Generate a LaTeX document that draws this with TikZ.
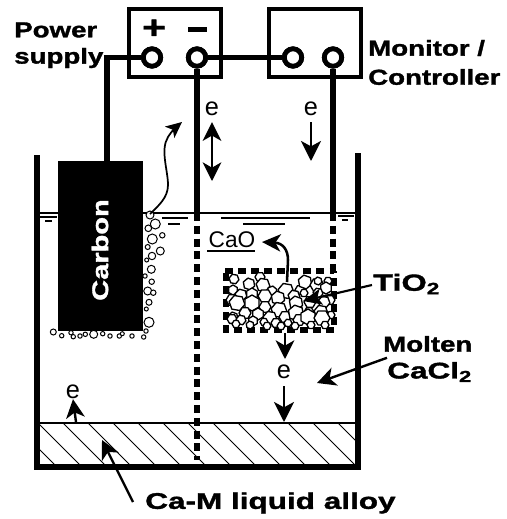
\documentclass[tikz,border=0pt]{standalone}
\usepackage{fontspec}
\usetikzlibrary{arrows.meta,calc}
\newfontfamily\labfont[FakeStretch=1.28,FakeBold=1.5]{Liberation Sans Bold}
\newfontfamily\labwide[FakeStretch=1.39,FakeBold=1.5]{Liberation Sans Bold}
\newfontfamily\thinfont{Liberation Sans}
\begin{document}
\begin{tikzpicture}[x=0.75pt,y=-0.75pt,
  devicebox/.style={draw,line width=3.2pt,fill=white,minimum width=69pt,minimum height=51pt,inner sep=0pt},
  terminal/.style={circle,draw,fill=white,line width=3.6pt,minimum size=13pt,inner sep=0pt},
  wire/.style={line width=4pt},
  wall/.style={line width=4pt},
  dashwire/.style={line width=4pt,dash pattern=on 6pt off 3.6pt},
  thinline/.style={line width=1.8pt},
  hatchline/.style={line width=0.7pt},
  bubble/.style={line width=0.75pt,fill=white},
  particle/.style={line width=1pt,fill=white,line join=round},
  blab/.style={font=\labfont\fontsize{16.2}{18}\selectfont,inner sep=0pt,align=left},
  elab/.style={font=\thinfont\fontsize{19}{20}\selectfont,inner sep=0pt},
  arrowA/.style={line width=1.8pt,-{Stealth[length=15pt,width=15pt,inset=4pt]}},
  arrowB/.style={line width=1.8pt,-{Stealth[length=14pt,width=14pt,inset=4pt]}}]
\useasboundingbox (0,0) rectangle (507,519);
% alloy hatch
\begin{scope}
\clip (37,423) rectangle (358,467);
\foreach \x in {13,38,63,...,338}{\draw[hatchline] (\x,423) -- ++(46,46);}
\end{scope}
% crucible
\coordinate (wallTL) at (37,155);
\coordinate (wallBL) at (37,467);
\coordinate (wallBR) at (358,467);
\coordinate (wallTR) at (358,153);
\draw[wall] (wallTL) -- (wallBL) -- (wallBR) -- (wallTR);
\coordinate (levelL) at (37,213);
\coordinate (levelR) at (358,213);
\draw[line width=1.8pt] (levelL) -- (levelR);
\coordinate (alloyL) at (37,423);
\coordinate (alloyR) at (358,423);
\draw[thinline] (alloyL) -- (alloyR);
% surface ticks
\foreach \a/\b/\y in {40/57/217,45/52/221,162/188/218,168/180/224,221/310/218,243/285/224,338/354/216,342/348/220}
  {\draw[line width=1pt] (\a,\y) -- (\b,\y);}
% boxes and terminals
\node[devicebox] (psu) at (175,43) {};
\node[devicebox] (mon) at (315,43) {};
\coordinate (carbontop) at (107,162);
\coordinate (wireA) at (197,213);
\coordinate (wireB) at (333,213);
\coordinate (dashA) at (197,460);
\coordinate (dashB) at (333,271);
\node[terminal] (tplus) at (152,57.5) {};
\node[terminal] (tminus) at (197,57.5) {};
\node[terminal] (tmonA) at (293,57.5) {};
\node[terminal] (tmonB) at (333,57.5) {};
\draw[wire] (tplus) -| (carbontop);
\draw[wire] (tminus) -- (tmonA);
\draw[wire] (tminus) -- (wireA);
\draw[wire] (tmonB) -- (wireB);
\draw[dashwire] (wireA) -- (dashA);
\draw[dashwire] (wireB) -- (dashB);
\node[terminal] at (tplus) {};
\node[terminal] at (tminus) {};
\node[terminal] at (tmonA) {};
\node[terminal] at (tmonB) {};
\node[font=\labfont\fontsize{24}{24}\selectfont,inner sep=0pt] (plus) at (154,29) {+};
\fill (188,27) rectangle (207,32);
% carbon
\node[fill=black,minimum width=63.75pt,minimum height=127pt,inner sep=0pt] (carbon) at (100.5,246) {};
\node[rotate=90,white,blab,font=\labfont\fontsize{17}{18}\selectfont] (carbontext) at (100,250) {Carbon};
% bubbles
\foreach \x/\y/\r in {150/215/4,155.3/224/5,148.3/228.3/3.3,162.3/235.3/2.7,152.3/239/5,147.7/247/2.5,160.3/251/4,152/256/3.7,146.7/260/2,151.3/269.3/4,145/276/2.2,151.7/281.7/2.7,147.7/291/4,153.3/292.7/2.7,149/302.3/3,146.3/309/2,149/322.3/5,146/331/2.2,143.7/337/2.2,53.3/332/3,61.7/335.7/2.2,71/332.7/2.2,73.3/336.7/2.2,80/336/2.2,85.3/334.3/2.2,93.7/334.3/4,102.7/333.7/2.2,110/336/2.2,119.3/336/2.2,122.3/333.7/2,132/336/2.2}
  {\draw[bubble] (\x,\y) circle[radius=\r];}
% wavy gas arrow
\coordinate (gasA) at (150,214);
\coordinate (gasB) at (182,122);
\draw[line width=1.3pt,-{Stealth[length=12pt,width=11pt,inset=3pt]}] (gasA) .. controls (158,206) and (168,198) .. (168,185) .. controls (168,170) and (160,150) .. (168,137) .. controls (171,132) and (176,127) .. (gasB);
% basket
\draw[line width=3.8pt,dash pattern=on 6pt off 3.8pt] (225,271) -- (334,271);
\draw[line width=3.8pt,dash pattern=on 6pt off 3.8pt] (226,273) -- (226,330) -- (334,330) -- (334,271);
% particles
\foreach \x/\y/\r/\t in {234/279/5/10,233/290/5/30,260/277/5/0,249/284/6/20,263/285/7/10,272/291/5/40,286/291/8/10,300/290/5/0,305/282/7/20,317/285/7/0,318/281/4/20,328/281/4/0,326/288/6/30,
 232/300/6/0,241/295/6/15,252/294/6/30,265/296/7/0,278/298/7/20,294/296/6/10,304/293/4/0,318/293/5/10,330/300/5/0,
 237/303/8/10,252/303/8/30,265/307/6/0,279/310/8/10,296/303/7/20,310/302/6/0,324/302/6/10,
 233/317/5/20,245/313/6/0,258/314/6/30,270/318/7/10,285/317/6/0,296/313/8/20,309/312/5/0,321/312/7/10,331/315/4/0,
 232/319/5/0,241/320/5/10,253/321/5/30,264/322/4/0,276/323/5/0,288/323/4/10,299/320/6/0,308/317/8/30,322/318/8/0,
 236/324/4/0,250/325/4/20,267/326/4/0,281/326/4/0,295/326/4/0,311/325/4/0,325/325/4/0}
 {\draw[particle] (\x,\y) ++(\t:\r) -- ++(\t+120:\r) -- ++(\t+180:\r) -- ++(\t+240:\r) -- ++(\t+300:\r) -- ++(\t:\r) -- cycle;}
% electron labels and arrows
\node[elab] (eA) at (212,109) {e};
\node[elab] (eB) at (311,109) {e};
\node[elab] (eC) at (284,372) {e};
\node[elab] (eD) at (73,392) {e};
\draw[line width=1.5pt,{Stealth[length=14pt,width=14pt,inset=4pt]}-{Stealth[length=14pt,width=14pt,inset=4pt]}] (eA.south) ++(0,6) -- (212,181);
\draw[arrowA] (eB.south) ++(0,6) -- (311,161);
\draw[arrowB] (285,333) -- (285,359);
\draw[arrowA] (eC.south) ++(0,7) -- (284,422);
\draw[arrowB] (76,422) -- (eD.south);
% CaO
\node[font=\thinfont\fontsize{17}{18}\selectfont,inner sep=0pt] (cao) at (232,240) {CaO};
\coordinate (caoU) at (207,251);
\coordinate (caoV) at (255,251);
\draw[line width=1.4pt] (caoU) -- (caoV);
\coordinate (caoS) at (287,282);
\draw[line width=1.9pt,-{Stealth[length=14pt,width=13pt,inset=4pt]}] (caoS) -- (288,260) .. controls (288,250) and (283,243) .. (262,242);
% labels
\node[blab,anchor=west] (lpower) at (14,30) {Power};
\node[blab,anchor=west] (lsupply) at (14,58) {supply};
\node[blab,anchor=west] (lmon) at (368,48) {Monitor /};
\node[blab,anchor=west] (lctrl) at (368,77) {Controller};
\node[blab,anchor=west,font=\labwide\fontsize{17.5}{18}\selectfont] (ltio) at (373,284) {TiO\textsubscript{2}};
\node[blab,anchor=west] (lmol) at (383,344) {Molten};
\node[blab,anchor=west,font=\labwide\fontsize{17}{18}\selectfont] (lcacl) at (387,372) {CaCl\textsubscript{2}};
\node[blab,anchor=west,font=\labwide\fontsize{17}{18}\selectfont] (lalloy) at (145,503) {Ca-M liquid alloy};
\draw[line width=1.6pt,-{Stealth[length=14pt,width=12pt,inset=3pt]}] (372,285) -- (303,301);
\draw[arrowB] (lcacl.north west) ++(0,-4) -- (317,383);
\draw[arrowB] (133,502) -- (102,440);
\end{tikzpicture}
\end{document}
